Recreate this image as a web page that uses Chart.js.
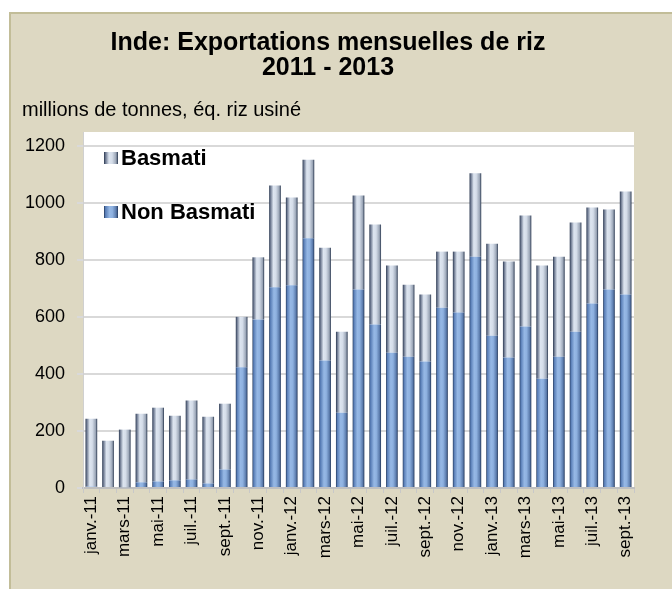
<!DOCTYPE html>
<html>
<head>
<meta charset="utf-8">
<script src="https://cdn.jsdelivr.net/npm/chart.js@4.4.1/dist/chart.umd.min.js"></script>
<style>
html,body{margin:0;padding:0;background:#fff;}
#wrap{width:672px;height:589px;position:relative;}
</style>
</head>
<body>
<div id="wrap"><canvas id="c" width="672" height="589"></canvas></div>
<script>
const categories = ['janv.-11','févr.-11','mars-11','avr.-11','mai-11','juin-11','juil.-11','août-11','sept.-11','oct.-11','nov.-11','déc.-11',
  'janv.-12','févr.-12','mars-12','avr.-12','mai-12','juin-12','juil.-12','août-12','sept.-12','oct.-12','nov.-12','déc.-12',
  'janv.-13','févr.-13','mars-13','avr.-13','mai-13','juin-13','juil.-13','août-13','sept.-13'];
const nonBasmati = [5,0,3,20,23,27,30,16,65,424,592,705,712,877,448,264,697,574,475,461,444,633,616,812,535,458,567,384,461,549,648,697,679];
const basmati = [238,166,202,241,259,227,277,234,231,177,218,357,308,276,396,285,330,351,306,253,235,197,214,293,323,337,390,397,351,383,337,281,362];
const yTicks = [0,200,400,600,800,1000,1200];
const titleLines = ['Inde: Exportations mensuelles de riz','2011 - 2013'];
const subtitleText = 'millions de tonnes, éq. riz usiné';
const legendNames = ['Basmati','Non Basmati'];

const FONT = '"Liberation Sans", Arial, sans-serif';
const BAR_FRAC = 0.7;
const stopsGrey = [[0,'#26344c'],[0.1,'#66728a'],[0.36,'#dde5f0'],[0.58,'#d5dde9'],[0.86,'#9aa5b6'],[1,'#26344c']];
const stopsBlue = [[0,'#203456'],[0.1,'#567bb4'],[0.4,'#96b8e5'],[0.6,'#8eb1e0'],[0.87,'#5a7aab'],[1,'#203456']];

function makeGrad(ctx, x0, x1, stops){
  const g = ctx.createLinearGradient(x0,0,x1,0);
  stops.forEach(s=>g.addColorStop(s[0],s[1]));
  return g;
}
function barFill(stops, fallback){
  return function(c){
    const chart = c.chart;
    const xs = chart.scales && chart.scales.x;
    if(!chart.chartArea || !xs || c.dataIndex === undefined) return fallback;
    const cx = xs.getPixelForValue(c.dataIndex);
    const w = (xs.right - xs.left)/categories.length*BAR_FRAC;
    return makeGrad(chart.ctx, cx-w/2, cx+w/2, stops);
  };
}

const bgPlugin = {
  id:'bg',
  beforeDraw(chart){
    const ctx = chart.ctx, a = chart.chartArea;
    ctx.save();
    ctx.fillStyle='#ffffff';
    ctx.fillRect(0,0,chart.width,chart.height);
    ctx.fillStyle='#ddd8c2';
    ctx.fillRect(9,12,chart.width-9,chart.height-12);
    ctx.fillStyle='#c2bd98';
    ctx.fillRect(9,12,2,chart.height-12);
    ctx.fillRect(9,12,chart.width-9,2);
    ctx.fillStyle='#ffffff';
    ctx.fillRect(a.left,a.top,a.right-a.left,a.bottom-a.top);
    ctx.restore();
  }
};

const legendPlugin = {
  id:'insideLegend',
  afterDraw(chart){
    const ctx = chart.ctx, a = chart.chartArea;
    const items = [[legendNames[0], stopsGrey],[legendNames[1], stopsBlue]];
    ctx.save();
    ctx.font = 'bold 22px ' + FONT;
    ctx.textBaseline='middle';
    items.forEach((it,i)=>{
      const cy = a.top + 26 + i*54;
      const bx = a.left + 21;
      ctx.fillStyle = makeGrad(ctx, bx, bx+14, it[1]);
      ctx.fillRect(bx, cy-6, 14, 12);
      ctx.fillStyle='#000';
      ctx.fillText(it[0], bx+17, cy+1);
    });
    ctx.restore();
  }
};

new Chart(document.getElementById('c'), {
  type:'bar',
  data:{
    labels: categories,
    datasets:[
      {label:legendNames[1], data:nonBasmati, backgroundColor: barFill(stopsBlue,'#7fa3d3'), borderWidth:0, barPercentage:BAR_FRAC, categoryPercentage:1.0},
      {label:legendNames[0], data:basmati, backgroundColor: barFill(stopsGrey,'#c9d2e0'), borderWidth:0, barPercentage:BAR_FRAC, categoryPercentage:1.0}
    ]
  },
  plugins:[bgPlugin, legendPlugin],
  options:{
    responsive:false,
    animation:false,
    devicePixelRatio:1,
    layout:{padding:{left:22,right:38,top:0,bottom:0}},
    plugins:{
      legend:{display:false},
      tooltip:{enabled:false},
      title:{display:true, text:titleLines, color:'#000', font:{family:FONT, size:25, weight:'bold', lineHeight:1.0}, padding:{top:31,bottom:4}},
      subtitle:{display:true, text:subtitleText, align:'start', color:'#000', font:{family:FONT, size:20, lineHeight:1.2}, padding:{top:13,bottom:10}}
    },
    scales:{
      x:{
        stacked:true,
        afterFit(s){ s.height = 101; },
        border:{display:true,color:'#bfbfbf',width:2},
        grid:{display:true, drawOnChartArea:false, drawTicks:true, tickLength:5, offset:true, color:'#c8c8c8', lineWidth:1},
        ticks:{autoSkip:false, maxRotation:90, minRotation:90, padding:3, color:'#000',
          font:{family:FONT, size:17},
          callback(v,i){ return i%2===0 ? categories[i] : ''; }}
      },
      y:{
        stacked:true,
        min:0, max:1250,
        afterFit(s){ s.width = 61; },
        afterBuildTicks(s){ s.ticks = yTicks.map(v=>({value:v})); },
        border:{display:true,color:'#d0d0d0',width:1},
        grid:{color:'#d9d9d9', lineWidth:2, tickLength:6, drawTicks:true},
        ticks:{stepSize:200, includeBounds:false, padding:12, color:'#000',
          font:{family:FONT, size:18},
          callback(v){ return String(v); }}
      }
    }
  }
});
</script>
</body>
</html>
